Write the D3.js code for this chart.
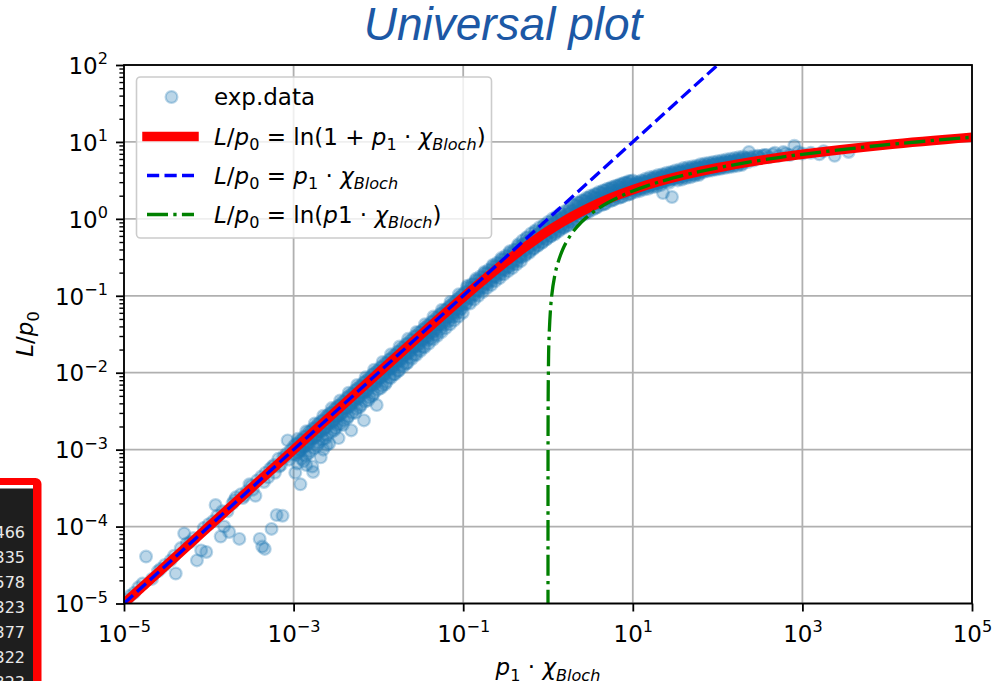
<!DOCTYPE html>
<html>
<head>
<meta charset="utf-8">
<script src="https://cdnjs.cloudflare.com/ajax/libs/d3/7.8.5/d3.min.js"></script>
<style>
  body { margin: 0; background: #fff; }
  svg { display: block; font-family: "DejaVu Sans", sans-serif; }
</style>
</head>
<body>
<svg id="chart" width="1001" height="681"></svg>
<script>
// ---- data ----
const X_TICKS = [1e-5, 1e-3, 1e-1, 1e1, 1e3, 1e5];
const Y_TICKS = [1e-5, 1e-4, 1e-3, 1e-2, 1e-1, 1e0, 1e1, 1e2];

// exp.data, stored as [log10(p1·χ), log10(L/p0)]
const expSparse = [[-4.97,-4.95],[-4.93,-4.9],[-4.88,-4.86],[-4.83,-4.79],[-4.74,-4.39],[-4.67,-4.68],[-4.6,-4.58],[-4.52,-4.5],[-4.45,-4.44],[-4.39,-4.61],[-4.33,-4.28],[-4.29,-4.09],[-4.22,-4.2],[-4.14,-4.44],[-4.09,-4.31],[-4.03,-4.33],[-4.0,-3.97],[-3.95,-3.93],[-3.92,-3.72],[-3.86,-4.13],[-3.82,-4.0],[-3.78,-3.8],[-3.76,-4.07],[-3.72,-3.7],[-3.68,-3.62],[-3.64,-4.16],[-3.6,-3.63],[-3.55,-3.54],[-3.52,-3.45],[-3.48,-3.52],[-3.45,-3.6],[-3.4,-4.16],[-3.37,-4.26],[-3.34,-4.29],[-3.33,-3.3],[-3.3,-3.36],[-3.26,-4.03],[-3.25,-3.22],[-3.22,-3.3],[-3.2,-3.85],[-3.18,-3.12],[-3.15,-3.2],[-3.13,-3.86],[-3.1,-3.1],[-3.07,-2.88],[-3.05,-3.13],
[-4.78,-4.74],[-4.57,-4.55],[-4.41,-4.38],[-4.26,-4.22],[-4.18,-4.15],[-4.06,-4.02],[-3.9,-3.86],[-3.84,-3.8],[-3.7,-3.66],[-3.62,-3.58],[-3.58,-3.6],[-3.5,-3.47],[-3.43,-3.4],[-3.38,-3.35],[-3.35,-3.42],[-3.28,-3.25],[-3.23,-3.2],[-3.17,-3.22],[-3.12,-3.09],[-3.08,-3.05],[-3.03,-3.0]];

const expLowerBand = [[-2.925,-3.0],[-2.85,-3.2],[-2.77,-3.29],[-2.65,-3.0],[-2.61,-2.94],[-2.49,-2.68],
[-3.0,-2.96],[-3.0,-3.06],[-2.98,-3.3],[-2.95,-2.92],[-2.94,-3.02],[-2.92,-3.45],[-2.9,-2.87],[-2.89,-2.97],[-2.88,-3.15],
[-2.85,-2.83],[-2.84,-2.9],[-2.82,-3.05],[-2.8,-2.76],[-2.79,-2.86],[-2.78,-3.22],[-2.75,-2.72],[-2.74,-2.82],[-2.72,-2.95],
[-2.7,-2.66],[-2.69,-2.76],[-2.68,-3.1],[-2.65,-2.62],[-2.64,-2.72],[-2.62,-2.85],[-2.6,-2.56],[-2.59,-2.66],[-2.58,-2.92],
[-2.55,-2.52],[-2.54,-2.62],[-2.52,-2.75],[-2.5,-2.46],[-2.49,-2.57],[-2.47,-2.85],[-2.45,-2.42],[-2.44,-2.52],[-2.42,-2.68],
[-2.4,-2.37],[-2.39,-2.46],[-2.37,-2.6],[-2.35,-2.31],[-2.34,-2.41],[-2.32,-2.75],[-2.3,-2.27],[-2.29,-2.36],[-2.27,-2.52],
[-2.25,-2.21],[-2.24,-2.31],[-2.22,-2.45],[-2.2,-2.17],[-2.19,-2.26],[-2.17,-2.62],[-2.15,-2.11],[-2.14,-2.21],[-2.12,-2.36],
[-2.1,-2.07],[-2.09,-2.16],[-2.07,-2.3],[-2.05,-2.01],[-2.04,-2.11],[-2.02,-2.42],[-2.0,-1.97],[-1.99,-2.07],[-1.97,-2.2],
[-1.95,-1.92],[-1.94,-2.01],[-1.92,-2.15],[-1.9,-1.87],[-1.89,-1.96],[-1.87,-2.06],[-1.85,-1.82],[-1.84,-1.91],[-1.82,-2.02],
[-1.8,-1.77],[-1.79,-1.86],[-1.77,-1.98],[-1.75,-1.72],[-1.74,-1.81],[-1.72,-1.9],[-1.7,-1.67],[-1.69,-1.76],[-1.67,-1.88],
[-1.65,-1.62],[-1.64,-1.71],[-1.62,-1.8],[-1.6,-1.57],[-1.59,-1.66],[-1.57,-1.76],[-1.55,-1.52],[-1.54,-1.61],[-1.52,-1.7],
[-1.5,-1.47],[-1.49,-1.57],[-1.47,-1.66],[-1.45,-1.42],[-1.44,-1.52],[-1.42,-1.58],[-1.4,-1.38],[-1.39,-1.47],[-1.37,-1.55],
[-1.35,-1.33],[-1.34,-1.42],[-1.32,-1.5],[-1.3,-1.28],[-1.29,-1.37],[-1.27,-1.44],[-1.25,-1.23],[-1.24,-1.32],[-1.22,-1.38],
[-1.2,-1.18],[-1.19,-1.27],[-1.17,-1.33],[-1.15,-1.13],[-1.14,-1.22],[-1.12,-1.28],[-1.1,-1.08],[-1.09,-1.17],[-1.07,-1.22],
[-1.05,-1.03],[-1.04,-1.12],[-1.02,-1.17],[-1.0,-0.98],[-0.99,-1.07],[-0.97,-1.11]];

const expLowerBand2 = [[-2.975,-2.93],[-2.965,-3.07],[-2.955,-3.18],[-2.925,-2.88],[-2.915,-3.01],[-2.905,-3.12],
[-2.875,-2.83],[-2.865,-2.96],[-2.855,-3.08],[-2.825,-2.77],[-2.815,-2.91],[-2.805,-3.02],[-2.775,-2.73],[-2.765,-2.86],[-2.755,-2.98],
[-2.725,-2.68],[-2.715,-2.81],[-2.705,-2.91],[-2.675,-2.63],[-2.665,-2.76],[-2.655,-2.87],[-2.625,-2.58],[-2.615,-2.71],[-2.605,-2.81],
[-2.575,-2.53],[-2.565,-2.66],[-2.555,-2.77],[-2.525,-2.48],[-2.515,-2.61],[-2.505,-2.72],[-2.475,-2.43],[-2.465,-2.56],[-2.455,-2.67],
[-2.425,-2.38],[-2.415,-2.51],[-2.405,-2.62],[-2.375,-2.33],[-2.365,-2.46],[-2.355,-2.57],[-2.325,-2.28],[-2.315,-2.41],[-2.305,-2.52],
[-2.275,-2.23],[-2.265,-2.36],[-2.255,-2.47],[-2.225,-2.18],[-2.215,-2.31],[-2.205,-2.42],[-2.175,-2.13],[-2.165,-2.26],[-2.155,-2.37],
[-2.125,-2.08],[-2.115,-2.21],[-2.105,-2.32],[-2.075,-2.03],[-2.065,-2.16],[-2.055,-2.27],[-2.025,-1.98],[-2.015,-2.11],[-2.005,-2.22],
[-1.975,-1.93],[-1.965,-2.06],[-1.955,-2.17],[-1.925,-1.88],[-1.915,-2.01],[-1.905,-2.12],[-1.875,-1.83],[-1.865,-1.96],[-1.855,-2.07],
[-1.825,-1.78],[-1.815,-1.91],[-1.805,-2.02],[-1.775,-1.73],[-1.765,-1.86],[-1.755,-1.97],[-1.725,-1.68],[-1.715,-1.81],[-1.705,-1.92],
[-1.675,-1.63],[-1.665,-1.76],[-1.655,-1.87],[-1.625,-1.58],[-1.615,-1.71],[-1.605,-1.82],[-1.575,-1.53],[-1.565,-1.66],[-1.555,-1.77],
[-1.525,-1.48],[-1.515,-1.62],[-1.505,-1.72],[-1.475,-1.44],[-1.465,-1.57],[-1.455,-1.67],[-1.425,-1.39],[-1.415,-1.52],[-1.405,-1.62],
[-1.375,-1.34],[-1.365,-1.47],[-1.355,-1.57],[-1.325,-1.29],[-1.315,-1.42],[-1.305,-1.52],[-1.275,-1.24],[-1.265,-1.37],[-1.255,-1.47],
[-1.225,-1.19],[-1.215,-1.32],[-1.205,-1.42],[-1.175,-1.15],[-1.165,-1.27],[-1.155,-1.37],[-1.125,-1.1],[-1.115,-1.22],[-1.105,-1.32],
[-1.075,-1.05],[-1.065,-1.17],[-1.055,-1.27],[-1.025,-1.0],[-1.015,-1.12],[-1.005,-1.22]];

const expLowerBand3 = [[-2.95,-2.86],[-2.94,-3.04],[-2.85,-2.76],[-2.84,-2.94],[-2.75,-2.66],[-2.74,-2.84],
[-2.65,-2.56],[-2.64,-2.74],[-2.55,-2.46],[-2.54,-2.64],[-2.45,-2.36],[-2.44,-2.54],[-2.35,-2.26],[-2.34,-2.44],
[-2.25,-2.16],[-2.24,-2.34],[-2.15,-2.06],[-2.14,-2.24],[-2.05,-1.96],[-2.04,-2.14],[-1.95,-1.86],[-1.94,-2.04],
[-1.85,-1.76],[-1.84,-1.94],[-1.75,-1.66],[-1.74,-1.84],[-1.65,-1.56],[-1.64,-1.74],[-1.55,-1.47],[-1.54,-1.65],
[-1.45,-1.37],[-1.44,-1.55],[-1.35,-1.27],[-1.34,-1.46],[-1.25,-1.18],[-1.24,-1.36],[-1.15,-1.08],[-1.14,-1.27],
[-1.05,-0.98],[-1.04,-1.18],
[-2.9,-2.9],[-2.89,-2.95],[-2.8,-2.8],[-2.79,-2.85],[-2.7,-2.7],[-2.69,-2.75],[-2.6,-2.6],[-2.59,-2.65],
[-2.5,-2.5],[-2.49,-2.55],[-2.4,-2.4],[-2.39,-2.45],[-2.3,-2.3],[-2.29,-2.35],[-2.2,-2.2],[-2.19,-2.25],
[-2.1,-2.1],[-2.09,-2.15],[-2.0,-2.0],[-1.99,-2.05],[-1.9,-1.9],[-1.89,-1.95],[-1.8,-1.8],[-1.79,-1.85],
[-1.7,-1.71],[-1.69,-1.76],[-1.6,-1.61],[-1.59,-1.66],[-1.5,-1.51],[-1.49,-1.56],[-1.4,-1.41],[-1.39,-1.46],
[-1.3,-1.31],[-1.29,-1.36],[-1.2,-1.21],[-1.19,-1.27],[-1.1,-1.12],[-1.09,-1.17]];

const expKnee = [[-0.95,-0.89],[-0.94,-0.95],[-0.93,-1.03],[-0.92,-1.1],[-0.9,-0.85],[-0.89,-0.9],[-0.88,-0.98],[-0.87,-1.05],
[-0.85,-0.8],[-0.84,-0.86],[-0.83,-0.93],[-0.82,-1.0],[-0.8,-0.75],[-0.79,-0.81],[-0.78,-0.88],[-0.77,-0.95],
[-0.75,-0.71],[-0.74,-0.77],[-0.73,-0.84],[-0.72,-0.9],[-0.7,-0.66],[-0.69,-0.72],[-0.68,-0.79],[-0.67,-0.86],
[-0.65,-0.62],[-0.64,-0.68],[-0.63,-0.75],[-0.62,-0.81],[-0.6,-0.57],[-0.59,-0.63],[-0.58,-0.7],[-0.57,-0.77],
[-0.55,-0.53],[-0.54,-0.59],[-0.53,-0.66],[-0.52,-0.72],[-0.5,-0.48],[-0.49,-0.54],[-0.48,-0.62],[-0.47,-0.68],
[-0.45,-0.44],[-0.44,-0.5],[-0.43,-0.57],[-0.42,-0.64],[-0.4,-0.4],[-0.39,-0.46],[-0.38,-0.53],[-0.37,-0.59],
[-0.35,-0.35],[-0.34,-0.41],[-0.33,-0.49],[-0.32,-0.55],[-0.3,-0.28],[-0.29,-0.34],[-0.28,-0.41],[-0.27,-0.48],
[-0.25,-0.24],[-0.24,-0.3],[-0.23,-0.37],[-0.22,-0.44],[-0.2,-0.19],[-0.19,-0.26],[-0.18,-0.33],[-0.17,-0.39],
[-0.15,-0.15],[-0.14,-0.22],[-0.13,-0.29],[-0.12,-0.35],[-0.1,-0.11],[-0.09,-0.18],[-0.08,-0.25],[-0.07,-0.31],
[-0.05,-0.08],[-0.04,-0.14],[-0.03,-0.21],[-0.02,-0.27],[0,-0.04],[0.01,-0.1],[0.02,-0.17],[0.03,-0.23],
[0.05,0.0],[0.06,-0.07],[0.07,-0.13],[0.08,-0.2],[0.1,0.03],[0.11,-0.03],[0.12,-0.1],[0.13,-0.16],
[0.15,0.07],[0.16,0.0],[0.17,-0.07],[0.18,-0.12],[0.2,0.1],[0.21,0.03],[0.22,-0.03],[0.23,-0.09],
[0.25,0.14],[0.26,0.07],[0.27,0.0],[0.28,-0.05],[0.3,0.18],[0.31,0.11],[0.32,0.05],[0.33,-0.01],
[0.35,0.21],[0.36,0.14],[0.37,0.08],[0.38,0.03],[0.4,0.24],[0.41,0.17],[0.42,0.11],[0.43,0.06],
[0.45,0.27],[0.46,0.2],[0.47,0.14],[0.48,0.09],[0.5,0.3],[0.51,0.23],[0.52,0.17],[0.53,0.12],
[0.55,0.32],[0.56,0.26],[0.57,0.2],[0.58,0.15],[0.6,0.35],[0.61,0.28],[0.62,0.22],[0.63,0.18],
[0.65,0.37],[0.66,0.3],[0.67,0.25],[0.68,0.2],[0.7,0.39],[0.71,0.33],[0.72,0.27],[0.73,0.23],
[0.75,0.41],[0.76,0.35],[0.77,0.29],[0.78,0.25],[0.8,0.43],[0.81,0.37],[0.82,0.31],[0.83,0.27],
[0.85,0.45],[0.86,0.39],[0.87,0.33],[0.88,0.29],[0.9,0.47],[0.91,0.41],[0.92,0.35],[0.93,0.31],
[0.95,0.49],[0.96,0.43],[0.97,0.37],[0.98,0.33],[1.0,0.5],[1.01,0.44],[1.02,0.39],[1.03,0.35]];

const expKnee2 = [[-0.975,-0.95],[-0.965,-1.09],[-0.925,-0.9],[-0.915,-1.04],[-0.875,-0.85],[-0.865,-0.99],
[-0.825,-0.8],[-0.815,-0.94],[-0.775,-0.76],[-0.765,-0.9],[-0.725,-0.71],[-0.715,-0.85],[-0.675,-0.67],[-0.665,-0.81],
[-0.625,-0.62],[-0.615,-0.76],[-0.575,-0.58],[-0.565,-0.72],[-0.525,-0.53],[-0.515,-0.67],[-0.475,-0.49],[-0.465,-0.63],
[-0.425,-0.45],[-0.415,-0.59],[-0.375,-0.4],[-0.365,-0.55],[-0.325,-0.36],[-0.315,-0.5],[-0.275,-0.32],[-0.265,-0.46],
[-0.225,-0.28],[-0.215,-0.42],[-0.175,-0.24],[-0.165,-0.38],[-0.125,-0.2],[-0.115,-0.34],[-0.075,-0.16],[-0.065,-0.3],
[-0.025,-0.12],[-0.015,-0.26],[0.025,-0.08],[0.035,-0.22],[0.075,-0.05],[0.085,-0.18],[0.125,-0.01],[0.135,-0.14],
[0.175,0.02],[0.185,-0.11],[0.225,0.06],[0.235,-0.08],[0.275,0.1],[0.285,-0.03],
[0.325,0.18],[0.335,0.08],[0.375,0.21],[0.385,0.11],[0.425,0.24],[0.435,0.14],[0.475,0.27],[0.485,0.17],
[0.525,0.29],[0.535,0.2],[0.575,0.32],[0.585,0.22],[0.625,0.34],[0.635,0.25],[0.675,0.37],[0.685,0.27],
[0.725,0.39],[0.735,0.29],[0.775,0.41],[0.785,0.32],[0.825,0.43],[0.835,0.34],[0.875,0.45],[0.885,0.36],
[0.925,0.47],[0.935,0.38],[0.975,0.49],[0.985,0.4]];

const expKnee3 = [[-0.95,-0.87],[-0.94,-1.01],[-0.85,-0.78],[-0.84,-0.92],[-0.75,-0.69],[-0.74,-0.83],
[-0.65,-0.6],[-0.64,-0.74],[-0.55,-0.51],[-0.54,-0.65],[-0.45,-0.42],[-0.44,-0.56],[-0.35,-0.33],[-0.34,-0.48],
[-0.25,-0.25],[-0.24,-0.39],[-0.15,-0.17],[-0.14,-0.31],[-0.05,-0.1],[-0.04,-0.24],[0.05,-0.03],[0.06,-0.17],
[0.15,0.04],[0.16,-0.1],[0.25,0.11],[0.26,-0.04],[0.35,0.17],[0.36,0.03],[0.45,0.23],[0.46,0.09],
[0.55,0.28],[0.56,0.14],[0.65,0.33],[0.66,0.19],[0.75,0.38],[0.76,0.24],[0.85,0.42],[0.86,0.28],
[0.95,0.46],[0.96,0.32]];

const expUpperBand = [[1.05,0.48],[1.06,0.44],[1.07,0.39],[1.08,0.36],[1.1,0.5],[1.11,0.46],[1.12,0.41],[1.13,0.38],
[1.15,0.52],[1.16,0.47],[1.17,0.43],[1.18,0.39],[1.2,0.54],[1.21,0.49],[1.22,0.44],[1.23,0.41],
[1.25,0.55],[1.26,0.51],[1.27,0.46],[1.28,0.42],[1.3,0.57],[1.31,0.52],[1.32,0.48],[1.33,0.44],
[1.35,0.58],[1.36,0.54],[1.37,0.49],[1.356,0.336],[1.4,0.6],[1.41,0.55],[1.42,0.51],[1.43,0.47],
[1.45,0.61],[1.46,0.57],[1.47,0.52],[1.462,0.284],[1.5,0.63],[1.51,0.58],[1.52,0.54],[1.53,0.5],
[1.55,0.64],[1.56,0.6],[1.57,0.55],[1.58,0.51],[1.6,0.66],[1.61,0.61],[1.62,0.57],[1.63,0.53],
[1.65,0.67],[1.66,0.62],[1.67,0.58],[1.68,0.54],[1.7,0.68],[1.71,0.64],[1.72,0.59],[1.73,0.56],
[1.75,0.69],[1.76,0.65],[1.77,0.6],[1.78,0.57],[1.8,0.71],[1.81,0.66],[1.82,0.62],
[1.85,0.72],[1.86,0.67],[1.87,0.63],[1.9,0.73],[1.91,0.68],[1.92,0.64],[1.95,0.74],[1.96,0.7],[1.97,0.65],
[2.0,0.75],[2.01,0.71],[2.02,0.66],[2.05,0.76],[2.06,0.72],[2.07,0.68],[2.1,0.77],[2.11,0.73],[2.12,0.69],
[2.15,0.78],[2.17,0.74],[2.19,0.7],[2.2,0.79],[2.22,0.75],[2.25,0.8],[2.27,0.76],[2.29,0.72],
[2.3,0.81],[2.33,0.77],[2.37,0.87],[2.4,0.78],[2.43,0.76],[2.47,0.82],[2.5,0.79],[2.55,0.83],[2.6,0.8],
[2.65,0.84],[2.72,0.82],[2.8,0.85],[2.85,0.83],[2.905,0.95],[2.95,0.87],[3.0,0.85],[3.1,0.86],
[3.2,0.84],[3.25,0.88],[3.38,0.82],[3.545,0.87]];

const expUpperBand2 = [[1.025,0.45],[1.035,0.37],[1.075,0.47],[1.085,0.39],[1.125,0.49],[1.135,0.41],
[1.175,0.5],[1.185,0.42],[1.225,0.52],[1.235,0.44],[1.275,0.54],[1.285,0.46],[1.325,0.55],[1.335,0.47],
[1.375,0.57],[1.385,0.49],[1.425,0.58],[1.435,0.5],[1.475,0.6],[1.485,0.52],[1.525,0.61],[1.535,0.53],
[1.575,0.62],[1.585,0.54],[1.625,0.64],[1.635,0.56],[1.675,0.65],[1.685,0.57],[1.725,0.66],[1.735,0.58],
[1.775,0.67],[1.785,0.59],[1.825,0.69],[1.835,0.61],[1.875,0.7],[1.885,0.62],[1.925,0.71],[1.935,0.63],
[1.975,0.72],[1.985,0.64],[2.025,0.73],[2.035,0.65],[2.075,0.74],[2.085,0.66],[2.125,0.75],[2.135,0.67],
[2.175,0.76],[2.185,0.68],[2.225,0.77],[2.235,0.69],[2.275,0.78],[2.285,0.7],
[2.325,0.79],[2.375,0.8],[2.425,0.81],[2.475,0.81],[2.525,0.82],[2.575,0.83],[2.675,0.86],[2.775,0.87]];

const expUpperBand3 = [[1.05,0.45],[1.06,0.4],[1.15,0.48],[1.16,0.44],[1.25,0.52],[1.26,0.47],[1.35,0.55],[1.36,0.5],
[1.45,0.58],[1.46,0.53],[1.55,0.61],[1.56,0.56],[1.65,0.63],[1.66,0.59],[1.75,0.66],[1.76,0.61],
[1.85,0.68],[1.86,0.64],[1.95,0.7],[1.96,0.66],[2.05,0.72],[2.06,0.68],[2.15,0.74],[2.16,0.7],
[2.25,0.76],[2.26,0.72],[2.35,0.78],[2.36,0.74]];

// L/p0 = ln(1 + p1·χ)
const fitX = [1e-5, 1e-4, 1e-3, 1e-2, 0.03, 0.1, 0.2, 0.3, 0.5, 0.7, 1, 1.5, 2, 3, 5, 7, 10, 20, 50, 100, 300, 1000, 1e4, 1e5];
const fitY = [1e-5, 1e-4, 9.995e-4, 9.9503e-3, 0.029559, 0.09531, 0.18232, 0.26236, 0.40547, 0.53063, 0.69315, 0.91629,
  1.09861, 1.38629, 1.79176, 2.07944, 2.3979, 3.04452, 3.93183, 4.61512, 5.70711, 6.90875, 9.21044, 11.51294];

// L/p0 = p1·χ
const linX = [1e-5, 1e5];
const linY = [1e-5, 1e5];

// L/p0 = ln(p1·χ)
const logX = [1.000001, 1.00001, 1.0001, 1.001, 1.003, 1.01, 1.03, 1.1, 1.2, 1.3, 1.5, 1.7, 2, 2.5, 3, 4, 5, 7, 10, 15,
  20, 30, 50, 100, 200, 500, 1000, 1e4, 1e5];
const logY = [1e-6, 1e-5, 9.9995e-5, 9.995e-4, 2.9955e-3, 9.95e-3, 0.02956, 0.09531, 0.18232, 0.26236, 0.40547, 0.53063,
  0.69315, 0.91629, 1.09861, 1.38629, 1.60944, 1.94591, 2.30259, 2.70805, 2.99573, 3.4012, 3.91202, 4.60517, 5.29832,
  6.21461, 6.90776, 9.21034, 11.51293];

// numbers on the dark panel at the left edge
const sideCounts = ['466', '335', '578', '323', '377', '322', '323'];

// ---- layout ----
const svg = d3.select('#chart');
const plot = { left: 124, right: 972, top: 65, bottom: 603.5 };
const FS = 23;
const BLUE = '#1f77b4';

const x = d3.scaleLog().domain([1e-5, 1e5]).range([plot.left, plot.right]);
const y = d3.scaleLog().domain([1e-5, 1e2]).range([plot.bottom, plot.top]);

// math-like text with italic pieces and sub/superscripts
function mathText(sel, parts, size) {
  let shift = 0;
  parts.forEach((p) => {
    const ts = sel.append('tspan').text(p.t);
    if (p.it) ts.attr('font-style', 'italic');
    let target = 0;
    if (p.sub) target = size * 0.24;
    if (p.sup) target = -size * 0.42;
    if (p.sub || p.sup) ts.attr('font-size', size * 0.7);
    if (target !== shift) ts.attr('dy', target - shift);
    shift = target;
  });
}
const exponent = (v) => {
  const e = Math.round(Math.log10(v));
  return (e < 0 ? '\u2212' : '') + Math.abs(e);
};

// side panel (partial window on the left)
const side = svg.append('g');
side.append('rect').attr('x', -20).attr('y', 478).attr('width', 61.5).attr('height', 230)
  .attr('rx', 6).attr('fill', '#ff0000');
side.append('rect').attr('x', -20).attr('y', 485).attr('width', 53).attr('height', 230).attr('fill', '#ffffff');
side.append('rect').attr('x', -20).attr('y', 488.5).attr('width', 53).attr('height', 230).attr('fill', '#1e1e1e');
side.selectAll('text').data(sideCounts).join('text')
  .attr('x', 25).attr('y', (d, i) => 538 + i * 25)
  .attr('text-anchor', 'end').attr('font-size', 16).attr('fill', '#e8e8e8')
  .text((d) => d);

// title
svg.append('text').attr('x', 503).attr('y', 40).attr('text-anchor', 'middle')
  .style('font-family', '"Liberation Sans", Arial, sans-serif')
  .attr('font-style', 'italic').attr('font-size', 46).attr('fill', '#1c58a5')
  .text('Universal plot');

// grid
const grid = svg.append('g').attr('stroke', '#b0b0b0').attr('stroke-width', 1.8);
grid.selectAll('line.gx').data(X_TICKS).join('line').attr('class', 'gx')
  .attr('x1', (d) => x(d)).attr('x2', (d) => x(d)).attr('y1', plot.top).attr('y2', plot.bottom);
grid.selectAll('line.gy').data(Y_TICKS).join('line').attr('class', 'gy')
  .attr('y1', (d) => y(d)).attr('y2', (d) => y(d)).attr('x1', plot.left).attr('x2', plot.right);

svg.append('clipPath').attr('id', 'clip').append('rect')
  .attr('x', plot.left).attr('y', plot.top)
  .attr('width', plot.right - plot.left).attr('height', plot.bottom - plot.top);
const area = svg.append('g').attr('clip-path', 'url(#clip)');

// exp.data
const expData = [...expSparse, ...expLowerBand, ...expLowerBand2, ...expLowerBand3, ...expKnee, ...expKnee2,
  ...expKnee3, ...expUpperBand, ...expUpperBand2, ...expUpperBand3]
  .map(([lx, ly]) => ({ x: 10 ** lx, y: 10 ** ly }));
area.append('g').selectAll('circle').data(expData).join('circle')
  .attr('cx', (d) => x(d.x)).attr('cy', (d) => y(d.y)).attr('r', 5.9)
  .attr('fill', BLUE).attr('fill-opacity', 0.3)
  .attr('stroke', BLUE).attr('stroke-opacity', 0.3).attr('stroke-width', 2.2);

const line = d3.line().x((d) => x(d[0])).y((d) => y(d[1])).curve(d3.curveCatmullRom.alpha(0.5));
const zip = (a, b) => a.map((v, i) => [v, b[i]]);

area.append('path').attr('d', line(zip(fitX, fitY)))
  .attr('fill', 'none').attr('stroke', '#ff0000').attr('stroke-width', 9.5);
area.append('path').attr('d', d3.line().x((d) => x(d[0])).y((d) => y(d[1]))(zip(linX, linY)))
  .attr('fill', 'none').attr('stroke', '#0000ff').attr('stroke-width', 3.3)
  .attr('stroke-dasharray', '12.2,5.3');
area.append('path').attr('d', line(zip(logX, logY)))
  .attr('fill', 'none').attr('stroke', '#008000').attr('stroke-width', 3.3)
  .attr('stroke-dasharray', '21,5.3,3.3,5.3');

// axes
const xAxis = svg.append('g').attr('transform', `translate(0,${plot.bottom})`)
  .call(d3.axisBottom(x).tickValues(X_TICKS).tickSize(8).tickPadding(8).tickFormat(() => ''));
const yMinor = y.ticks().filter((v) => Math.abs(Math.log10(v) - Math.round(Math.log10(v))) > 1e-6);
svg.append('g').attr('transform', `translate(${plot.left},0)`)
  .call(d3.axisLeft(y).tickValues(yMinor).tickSize(4.6).tickFormat(() => ''))
  .call((g) => g.select('.domain').remove())
  .call((g) => g.selectAll('line').attr('stroke-width', 1.4));
const yAxis = svg.append('g').attr('transform', `translate(${plot.left},0)`)
  .call(d3.axisLeft(y).tickValues(Y_TICKS).tickSize(8).tickFormat(() => ''));

[xAxis, yAxis].forEach((g) => {
  g.select('.domain').remove();
  g.selectAll('line').attr('stroke-width', 1.8).attr('stroke', '#000');
  g.attr('font-family', null).attr('font-size', null);
});
xAxis.selectAll('.tick text').each(function (d) {
  const t = d3.select(this).attr('y', 38.5).attr('dy', null)
    .attr('font-size', FS).attr('fill', '#000');
  mathText(t, [{ t: '10' }, { t: exponent(d), sup: true }], FS);
});
yAxis.selectAll('.tick text').each(function (d) {
  const t = d3.select(this).attr('x', -16).attr('dy', '0.36em')
    .attr('font-size', FS).attr('fill', '#000');
  mathText(t, [{ t: '10' }, { t: exponent(d), sup: true }], FS);
});

// frame
svg.append('rect').attr('x', plot.left).attr('y', plot.top)
  .attr('width', plot.right - plot.left).attr('height', plot.bottom - plot.top)
  .attr('fill', 'none').attr('stroke', '#000').attr('stroke-width', 1.8);

// axis labels
const xl = svg.append('text').attr('x', (plot.left + plot.right) / 2).attr('y', 675)
  .attr('text-anchor', 'middle').attr('font-size', FS);
mathText(xl, [{ t: 'p', it: true }, { t: '1', sub: true }, { t: ' \u00b7 ' }, { t: '\u03c7', it: true },
  { t: 'Bloch', it: true, sub: true }], FS);
const yl = svg.append('text').attr('transform', 'translate(33,334) rotate(-90)')
  .attr('text-anchor', 'middle').attr('font-size', FS);
mathText(yl, [{ t: 'L', it: true }, { t: '/' }, { t: 'p', it: true }, { t: '0', sub: true }], FS);

// legend
const lg = svg.append('g');
lg.append('rect').attr('x', 136.5).attr('y', 77).attr('width', 355).attr('height', 161).attr('rx', 4)
  .attr('fill', '#fff').attr('fill-opacity', 0.8).attr('stroke', '#cccccc').attr('stroke-width', 1.6);
const rowY = [97, 136.5, 175.5, 214.5];
lg.append('circle').attr('cx', 171.5).attr('cy', rowY[0]).attr('r', 5.9)
  .attr('fill', BLUE).attr('fill-opacity', 0.3)
  .attr('stroke', BLUE).attr('stroke-opacity', 0.3).attr('stroke-width', 2.2);
lg.append('line').attr('x1', 147).attr('x2', 194).attr('y1', rowY[1]).attr('y2', rowY[1])
  .attr('stroke', '#ff0000').attr('stroke-width', 9.5).attr('stroke-linecap', 'square');
lg.append('line').attr('x1', 147).attr('x2', 194).attr('y1', rowY[2]).attr('y2', rowY[2])
  .attr('stroke', '#0000ff').attr('stroke-width', 3.3).attr('stroke-dasharray', '12.2,5.3');
lg.append('line').attr('x1', 147).attr('x2', 194).attr('y1', rowY[3]).attr('y2', rowY[3])
  .attr('stroke', '#008000').attr('stroke-width', 3.3).attr('stroke-dasharray', '21,5.3,3.3,5.3');

const lhs = [{ t: 'L', it: true }, { t: '/' }, { t: 'p', it: true }, { t: '0', sub: true }];
const chi = [{ t: '\u03c7', it: true }, { t: 'Bloch', it: true, sub: true }];
const legendParts = [
  [{ t: 'exp.data' }],
  [...lhs, { t: ' = ln(1 + ' }, { t: 'p', it: true }, { t: '1', sub: true }, { t: ' \u00b7 ' }, ...chi, { t: ')' }],
  [...lhs, { t: ' = ' }, { t: 'p', it: true }, { t: '1', sub: true }, { t: ' \u00b7 ' }, ...chi],
  [...lhs, { t: ' = ln(' }, { t: 'p', it: true }, { t: '1' }, { t: ' \u00b7 ' }, ...chi, { t: ')' }],
];
legendParts.forEach((parts, i) => {
  const t = lg.append('text').attr('x', 214).attr('y', rowY[i] + 8).attr('font-size', FS);
  mathText(t, parts, FS);
});
</script>
</body>
</html>
